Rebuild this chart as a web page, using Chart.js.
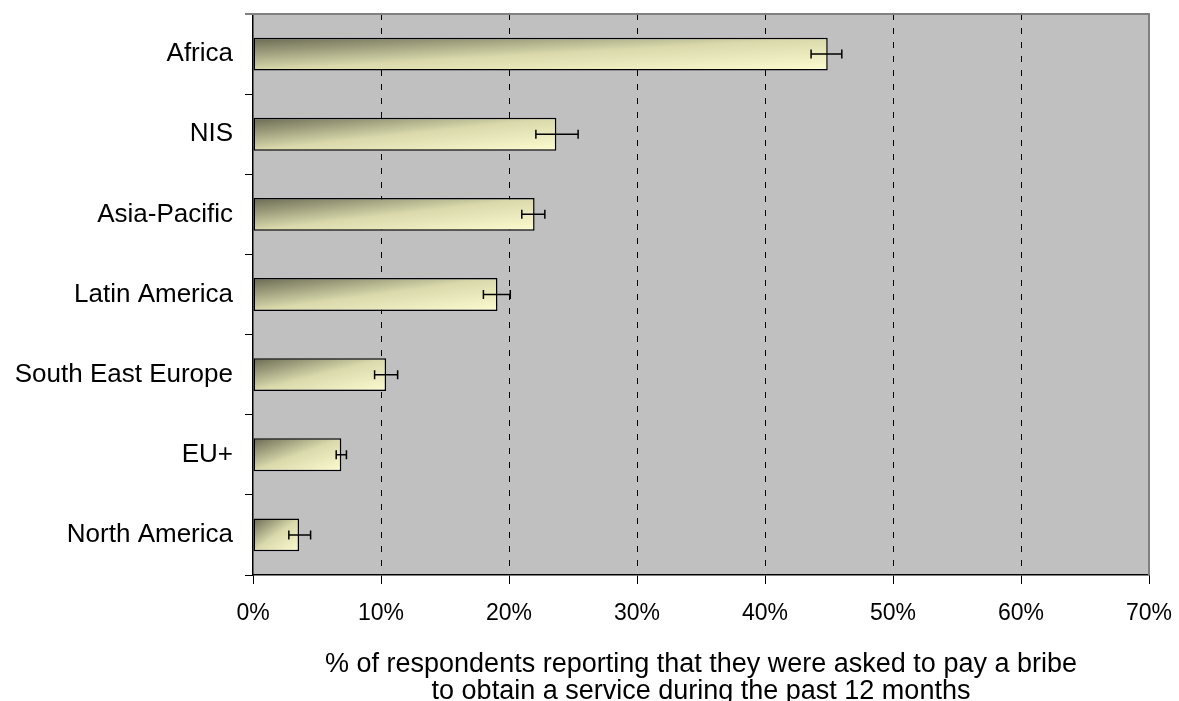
<!DOCTYPE html>
<html>
<head>
<meta charset="utf-8">
<script src="https://cdn.jsdelivr.net/npm/chart.js@4/dist/chart.umd.min.js"></script>
<style>
  html, body { margin: 0; padding: 0; background: #fff; }
  #wrap { width: 1179px; height: 701px; }
</style>
</head>
<body>
<div id="wrap"><canvas id="bribeChart"></canvas></div>
<script>
// regions and share of respondents asked to pay a bribe (%)
const regions = ['Africa', 'NIS', 'Asia-Pacific', 'Latin America', 'South East Europe', 'EU+', 'North America'];
const bribeShare = [44.9, 23.7, 22.0, 19.1, 10.4, 6.9, 3.6];
// confidence interval ends
const errLow = [43.6, 22.1, 21.0, 18.0, 9.5, 6.5, 2.8];
const errHigh = [46.0, 25.4, 22.8, 20.1, 11.3, 7.3, 4.5];
const xTicks = [0, 10, 20, 30, 40, 50, 60, 70];
const axisTitle = ['% of respondents reporting that they were asked to pay a bribe', 'to obtain a service during the past 12 months'];

const FONT = "'Liberation Sans', Arial, Helvetica, sans-serif";
const BAR_PCT = 0.41;

// diagonal gradient in bar-relative coordinates, dark top-left -> pale bottom-right
function barGradient(context) {
    const chart = context.chart;
    const xs = chart.scales.x, ys = chart.scales.y;
    if (!chart.chartArea || !xs || !ys) return '#e0e0b4';
    const i = context.dataIndex;
    const x0 = xs.getPixelForValue(0);
    const x1 = xs.getPixelForValue(bribeShare[i]);
    const step = Math.abs(ys.getPixelForValue(1) - ys.getPixelForValue(0));
    const h = step * BAR_PCT;
    const top = ys.getPixelForValue(i) - h / 2;
    const w = Math.max(1, x1 - x0);
    const a = 2 * w * h / (h * h + w * w);
    const g = chart.ctx.createLinearGradient(x0, top, x0 + a * h, top + a * w);
    g.addColorStop(0, '#686852');
    g.addColorStop(0.5, '#d9d9ac');
    g.addColorStop(1, '#fcfcd0');
    return g;
}

const plotBackground = {
    id: 'plotBackground',
    beforeDraw(chart) {
        const { ctx, chartArea: a } = chart;
        ctx.save();
        ctx.fillStyle = '#c0c0c0';
        ctx.fillRect(a.left, a.top, a.right - a.left, a.bottom - a.top);
        ctx.restore();
    },
    afterDraw(chart) {
        const { ctx, chartArea: a } = chart;
        ctx.save();
        ctx.strokeStyle = '#808080';
        ctx.lineWidth = 2;
        ctx.beginPath();
        ctx.moveTo(a.left - 8, a.top);
        ctx.lineTo(a.right, a.top);
        ctx.lineTo(a.right, a.bottom);
        ctx.stroke();
        ctx.restore();
    }
};

const errorBars = {
    id: 'errorBars',
    afterDatasetsDraw(chart) {
        const { ctx } = chart;
        const xs = chart.scales.x;
        const meta = chart.getDatasetMeta(0);
        ctx.save();
        ctx.strokeStyle = '#000';
        ctx.lineWidth = 1.5;
        meta.data.forEach((bar, i) => {
            const y = bar.y;
            const xa = xs.getPixelForValue(errLow[i]);
            const xb = xs.getPixelForValue(errHigh[i]);
            ctx.beginPath();
            ctx.moveTo(xa, y); ctx.lineTo(xb, y);
            ctx.moveTo(xa, y - 4.5); ctx.lineTo(xa, y + 4.5);
            ctx.moveTo(xb, y - 4.5); ctx.lineTo(xb, y + 4.5);
            ctx.stroke();
        });
        ctx.restore();
    }
};

document.addEventListener('DOMContentLoaded', function() {
    const ctx = document.getElementById('bribeChart').getContext('2d');

    new Chart(ctx, {
        type: 'bar',
        data: {
            labels: regions,
            datasets: [{
                data: bribeShare,
                backgroundColor: barGradient,
                borderColor: '#000',
                borderWidth: 1.5,
                borderSkipped: false,
                categoryPercentage: 1,
                barPercentage: BAR_PCT
            }]
        },
        options: {
            indexAxis: 'y',
            responsive: true,
            maintainAspectRatio: false,
            animation: false,
            layout: { padding: { top: 14, right: 30, left: 0, bottom: 0 } },
            plugins: {
                legend: { display: false },
                tooltip: { enabled: false }
            },
            scales: {
                x: {
                    min: 0,
                    max: 70,
                    afterBuildTicks: function(scale) {
                        scale.ticks = xTicks.map(v => ({ value: v }));
                    },
                    afterFit: function(scale) {
                        scale.height = 126;
                        scale.paddingLeft = 0;
                        scale.paddingRight = 0;
                    },
                    ticks: {
                        color: '#000',
                        padding: 16,
                        font: { family: FONT, size: 23 },
                        callback: v => v + '%'
                    },
                    grid: {
                        color: c => (c.tick && (c.tick.value === 0 || c.tick.value === 70)) ? 'rgba(0,0,0,0)' : '#000',
                        lineWidth: 1,
                        tickColor: '#000',
                        tickLength: 9
                    },
                    border: { display: true, color: '#000', width: 1.5, dash: [6, 8] },
                    title: {
                        display: true,
                        text: axisTitle,
                        color: '#000',
                        font: { family: FONT, size: 27, lineHeight: 1.0 },
                        padding: { top: 0, bottom: -4 }
                    }
                },
                y: {
                    afterFit: function(scale) {
                        scale.width = 253;
                        scale.paddingTop = 0;
                        scale.paddingBottom = 0;
                    },
                    ticks: {
                        color: '#000',
                        padding: 12,
                        font: { family: FONT, size: 26 }
                    },
                    grid: {
                        offset: true,
                        drawOnChartArea: false,
                        color: '#000',
                        tickColor: '#000',
                        tickLength: 8
                    },
                    border: { display: true, color: '#000', width: 1.5 }
                }
            }
        },
        plugins: [plotBackground, errorBars]
    });
});
</script>
</body>
</html>
